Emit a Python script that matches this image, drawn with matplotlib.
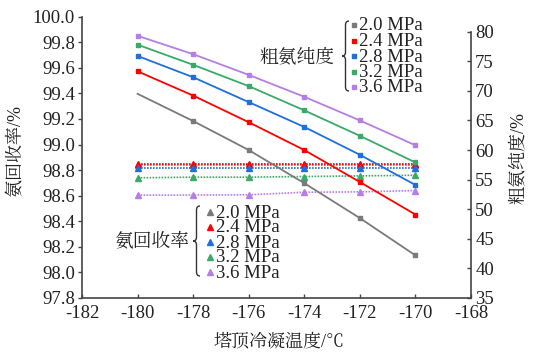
import matplotlib
matplotlib.use("Agg")
import matplotlib.pyplot as plt
from matplotlib.path import Path
from matplotlib.patches import PathPatch
from matplotlib.lines import Line2D

plt.rcParams['font.family'] = ['Liberation Serif', 'Noto Serif CJK JP']
plt.rcParams['axes.unicode_minus'] = False

temps = [-180, -178, -176, -174, -172, -170]
pressures = ['2.0 MPa', '2.4 MPa', '2.8 MPa', '3.2 MPa', '3.6 MPa']
colors = ['#7a7a7a', '#ff0000', '#1f6fdc', '#3aaa68', '#b57ee6']

# 粗氨纯度 (%), right axis
purity = [
    [69.5, 64.9, 60.0, 54.4, 48.5, 42.2],
    [73.3, 69.2, 64.7, 60.0, 54.6, 49.1],
    [75.9, 72.3, 68.1, 63.9, 59.2, 54.1],
    [77.8, 74.4, 70.8, 66.7, 62.4, 57.9],
    [79.3, 76.2, 72.7, 69.0, 65.0, 60.8],
]
# 氨回收率 (%), left axis
recovery = [
    [98.84, 98.84, 98.84, 98.84, 98.84, 98.84],
    [98.845, 98.845, 98.845, 98.845, 98.845, 98.845],
    [98.82, 98.82, 98.82, 98.82, 98.82, 98.82],
    [98.74, 98.745, 98.745, 98.75, 98.755, 98.76],
    [98.605, 98.605, 98.607, 98.627, 98.63, 98.64],
]

W, H = 533, 359
fig = plt.figure(figsize=(W / 100, H / 100), dpi=100)
ax = fig.add_axes([82 / W, 1 - 298 / H, (471 - 82) / W, (298 - 16.7) / H])
ax2 = ax.twinx()

def px(x, y):
    return (x / W, 1 - y / H)

spine_c = '#444444'
txt_c = '#222222'
for i in range(5):
    ax.plot(temps, recovery[i], color=colors[i], linestyle=(0, (1, 0.8)), lw=1.2,
            marker='^', ms=4.5, zorder=3)
    mk = slice(1, None) if i == 0 else None
    ax2.plot(temps, purity[i], color=colors[i], lw=1.3, marker='s', ms=3.5,
             markevery=mk, zorder=3)

ax.set_xlim(-182, -168)
ax.set_xticks(range(-182, -167, 2))
ax.set_ylim(97.8, 100.0)
ax.set_yticks([97.8 + 0.2 * k for k in range(12)])
ax.set_yticklabels([f"{97.8 + 0.2 * k:.1f}" for k in range(12)])
ax2.set_ylim(35, 82.53)
ax2.set_yticks(range(35, 81, 5))
ax2.spines['right'].set_bounds(35, 80)

for a in (ax, ax2):
    a.spines['top'].set_visible(False)
    for s in ('left', 'right', 'bottom'):
        a.spines[s].set_color(spine_c)
        a.spines[s].set_linewidth(1.2)
ax2.spines['left'].set_visible(False)
ax2.spines['bottom'].set_visible(False)
ax.spines['right'].set_visible(False)

ax.tick_params(axis='y', direction='out', length=3, width=1, color=spine_c,
               labelsize=13.5, pad=2, labelcolor=txt_c)
ax.tick_params(axis='x', direction='in', length=3, width=1, color=spine_c,
               labelsize=13.5, pad=5, labelcolor=txt_c)
ax2.tick_params(axis='y', direction='in', length=3, width=1, color=spine_c,
                labelsize=13.5, pad=3, labelcolor=txt_c)

fig.text(*px(16, 150), '氨回收率/%', rotation=90, ha='center', va='center', fontsize=13, color=txt_c)
fig.text(*px(519, 158), '粗氨纯度/%', rotation=90, ha='center', va='center', fontsize=13, color=txt_c)
fig.text(*px(279, 342), '塔顶冷凝温度/℃', ha='center', va='center', fontsize=13, color=txt_c)


def brace(x_tip, x_end, y_top, y_bot):
    ym = (y_top + y_bot) / 2
    xm = (x_tip + x_end) / 2
    codes = [Path.MOVETO, Path.CURVE3, Path.CURVE3, Path.LINETO,
             Path.CURVE3, Path.CURVE3, Path.MOVETO, Path.CURVE3, Path.CURVE3,
             Path.LINETO, Path.CURVE3, Path.CURVE3]
    verts = [px(x_end, y_top), px(xm, y_top), px(xm, y_top + 4), px(xm, ym - 4),
             px(xm, ym), px(x_tip, ym), px(x_tip, ym), px(xm, ym), px(xm, ym + 4),
             px(xm, y_bot - 4), px(xm, y_bot), px(x_end, y_bot)]
    patch = PathPatch(Path(verts, codes), transform=fig.transFigure, fill=False,
                      edgecolor='#333333', lw=1.0)
    fig.patches.append(patch)


# 粗氨纯度 legend
fig.text(*px(297, 57), '粗氨纯度', ha='center', va='center', fontsize=13.5, color=txt_c)
brace(342, 349, 21, 91)
for i in range(5):
    y = 25 + 15.5 * i
    fig.lines.append(Line2D([354 / W], [1 - y / H], marker='s', ms=3, color=colors[i],
                            transform=fig.transFigure))
    fig.text(*px(359, y + 1), pressures[i], ha='left', va='center', fontsize=13.5, color=txt_c)

# 氨回收率 legend
fig.text(*px(152, 242), '氨回收率', ha='center', va='center', fontsize=13.5, color=txt_c)
brace(193, 200, 206, 276)
for i in range(5):
    y = 212 + 15 * i
    fig.lines.append(Line2D([210 / W], [1 - y / H], marker='^', ms=4, color=colors[i],
                            transform=fig.transFigure))
    fig.text(*px(216, y + 1), pressures[i], ha='left', va='center', fontsize=13.5, color=txt_c)

fig.savefig('out.png', dpi=100)
